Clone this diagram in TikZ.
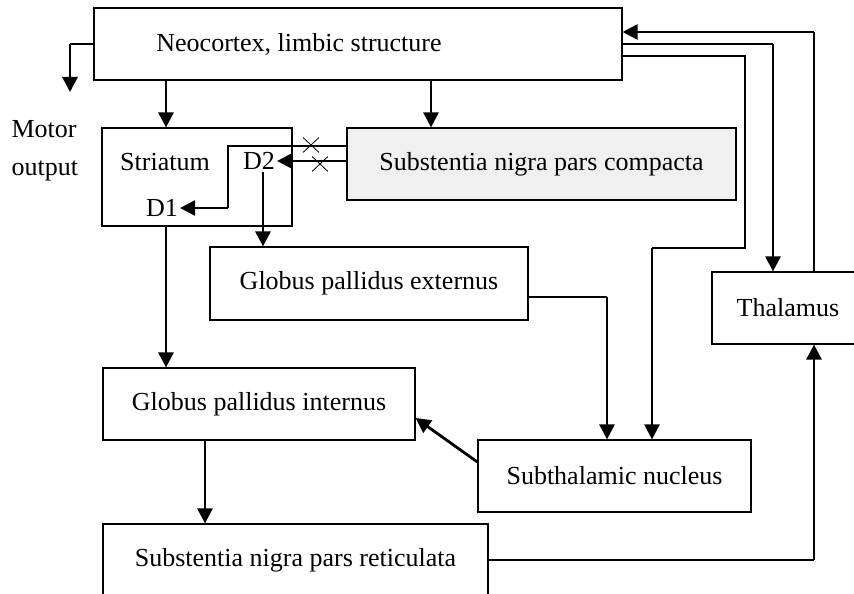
\documentclass[tikz,border=0pt]{standalone}
\usepackage{fontspec}
\setmainfont{Liberation Serif}
\usetikzlibrary{arrows.meta,shapes.misc}
\begin{document}
\begin{tikzpicture}[x=1pt,y=-1pt,
    font=\fontsize{26}{38}\selectfont,
    box/.style={draw,line width=1.2pt,inner sep=0pt},
    wire/.style={line width=1.2pt},
    feed/.style={line width=2.8pt,-{Triangle[length=15pt,width=15pt]}},
    tag/.style={inner sep=2pt},
    cut/.style={draw,cross out,line width=0.8pt,minimum width=15pt,minimum height=14pt}]
    \clip (0,0) rectangle (854,594);
    % boxes
    \node[box,minimum width=528pt,minimum height=72pt,
      label={[xshift=-59pt]center:{Neocortex, limbic structure}}] (ctx) at (358,44) {};
    \node[box,minimum width=190pt,minimum height=98pt] (str) at (197,177) {};
    \node[box,fill=gray!12,minimum width=389pt,minimum height=72pt] (snc) at (541.5,164) {Substentia nigra pars compacta};
    \node[box,minimum width=318pt,minimum height=73pt] (gpe) at (369,283.5) {Globus pallidus externus};
    \node[box,minimum width=312pt,minimum height=72pt] (gpi) at (259,404) {Globus pallidus internus};
    \node[box,minimum width=273pt,minimum height=72pt] (stn) at (614.5,476) {Subthalamic nucleus};
    \node[box,minimum width=152pt,minimum height=72pt] (tha) at (788,308) {Thalamus};
    \node[box,minimum width=385pt,minimum height=72pt] (snr) at (295.5,560) {Substentia nigra pars reticulata};
    % striatum inside
    \node[tag] (strl) at (165,162) {Striatum};
    \node[tag] (d2) at (259,161) {D2};
    \node[tag] (d1) at (162,208) {D1};
    \node[align=left,anchor=west] (mout) at (8,151) {Motor\\output};
    % guides
    \coordinate (mx) at (70,92);
    \coordinate (sx) at (166,0);
    \coordinate (nx) at (431,0);
    \coordinate (gx) at (205,0);
    \coordinate (d2x) at (263,0);
    \coordinate (bx) at (228,146);
    \coordinate (ex) at (607,297);
    \coordinate (kx) at (652,0);
    \coordinate (rx) at (745,248);
    \coordinate (tx) at (773,0);
    \coordinate (ux) at (814,0);
    \coordinate (ya) at (0,32);
    \coordinate (yb) at (0,56);
    % motor output
    \draw[wire] (ctx.west) -- (ctx.west -| mx);
    \draw[feed] (ctx.west -| mx) -- (mx);
    % cortex down
    \draw[feed] (ctx.south -| sx) -- (str.north -| sx);
    \draw[feed] (ctx.south -| nx) -- (snc.north -| nx);
    % nigra to striatum
    \draw[feed] (snc.west |- d2) -- (d2);
    \draw[wire] (snc.west |- bx) -- (bx) -- (bx |- d1);
    \draw[feed] (bx |- d1) -- (d1);
    \node[cut] (xa) at (311,145) {};
    \node[cut] (xb) at (320,164) {};
    % striatum out
    \draw[feed] (d2.south -| d2x) -- (gpe.north -| d2x);
    \draw[feed] (str.south -| sx) -- (gpi.north -| sx);
    \draw[feed] (gpi.south -| gx) -- (snr.north -| gx);
    % pallidus externus to subthalamic
    \draw[wire] (gpe.east |- ex) -- (ex);
    \draw[feed] (ex) -- (stn.north -| ex);
    \draw[feed] ([yshift=14pt]stn.west) -- ([yshift=-14pt]gpi.east);
    % cortex loops
    \draw[wire] (ctx.east |- yb) -- (rx |- yb) -- (rx) -- (rx -| kx);
    \draw[feed] (rx -| kx) -- (stn.north -| kx);
    \draw[wire] (ctx.east) -- (ctx.east -| tx);
    \draw[feed] (ctx.east -| tx) -- (tha.north -| tx);
    \draw[wire] (tha.north -| ux) -- (ux |- ya);
    \draw[feed] (ux |- ya) -- (ctx.east |- ya);
    \draw[wire] (snr.east) -- (snr.east -| ux);
    \draw[feed] (snr.east -| ux) -- (tha.south -| ux);
\end{tikzpicture}
\end{document}
